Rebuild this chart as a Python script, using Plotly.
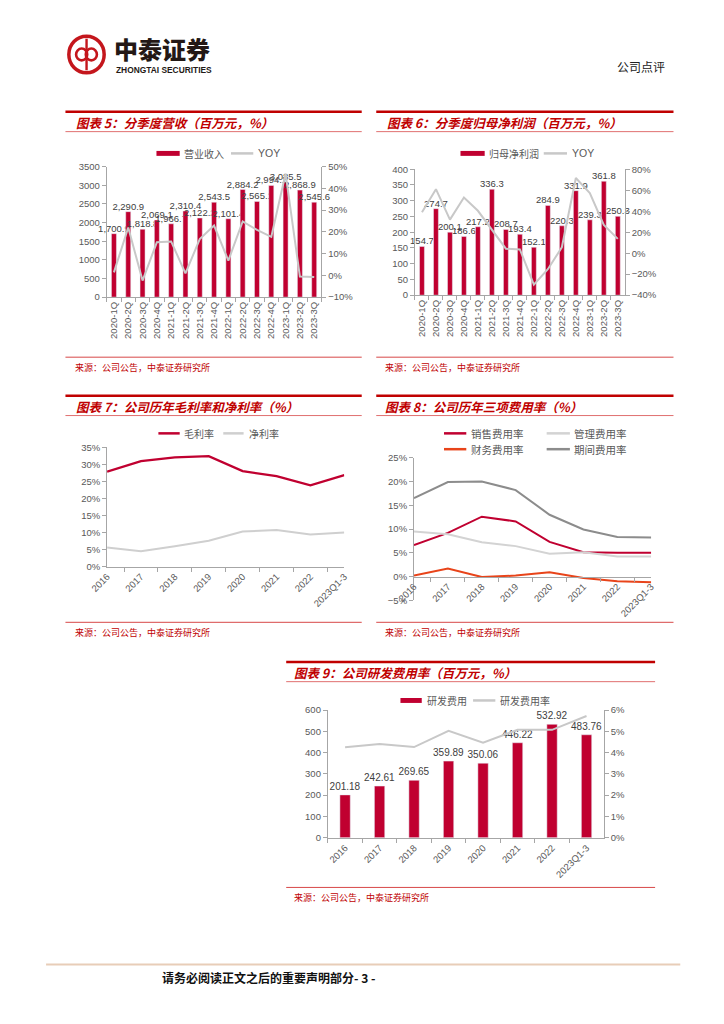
import plotly.graph_objects as go

W, H = 724, 1024


def fx(p):
    return p / W


def fy(p):
    return 1 - p / H


# ---------------- data ----------------
quarters = ["2020-1Q", "2020-2Q", "2020-3Q", "2020-4Q", "2021-1Q", "2021-2Q", "2021-3Q", "2021-4Q",
            "2022-1Q", "2022-2Q", "2022-3Q", "2022-4Q", "2023-1Q", "2023-2Q", "2023-3Q"]
revenue = [1700.9, 2290.9, 1818.8, 2069.1, 1966.7, 2310.4, 2122.2, 2543.5,
           2101.4, 2884.2, 2565.1, 2994.1, 3085.5, 2868.9, 2545.6]
revenue_yoy = [0.014, 0.220, -0.024, 0.152, 0.156, 0.009, 0.167, 0.229,
               0.068, 0.248, 0.209, 0.177, 0.468, -0.005, -0.008]
profit = [154.7, 274.7, 200.1, 186.6, 217.2, 336.3, 208.7, 193.4,
          152.1, 284.9, 220.3, 331.9, 239.3, 361.8, 250.3]
profit_yoy = [0.39, 0.61, 0.32, 0.53, 0.404, 0.224, 0.043, 0.036,
              -0.30, -0.153, 0.056, 0.716, 0.573, 0.27, 0.136]

years = ["2016", "2017", "2018", "2019", "2020", "2021", "2022", "2023Q1-3"]
gross_margin = [0.278, 0.309, 0.320, 0.324, 0.280, 0.265, 0.238, 0.268]
net_margin = [0.056, 0.045, 0.060, 0.076, 0.103, 0.107, 0.094, 0.100]

selling_rate = [0.066, 0.092, 0.126, 0.116, 0.073, 0.051, 0.050, 0.050]
admin_rate = [0.095, 0.089, 0.072, 0.064, 0.048, 0.051, 0.042, 0.042]
finance_rate = [0.002, 0.017, -0.001, 0.002, 0.009, -0.003, -0.010, -0.012]
period_rate = [0.165, 0.199, 0.200, 0.182, 0.130, 0.099, 0.083, 0.082]

rd_expense = [201.18, 242.61, 269.65, 359.89, 350.06, 446.22, 532.92, 483.76]
rd_rate = [0.0425, 0.0440, 0.0426, 0.0502, 0.0447, 0.0507, 0.0507, 0.0572]

# ---------------- styles ----------------
RED = "#C00030"
LGRAY = "#C8C8C8"
TICK = dict(family="Liberation Sans, Arial, sans-serif", size=9.5, color="#595959")
LBL = dict(family="Liberation Sans, Arial, sans-serif", size=9.5, color="#404040")
CJK = "Noto Sans CJK SC"
AXC = "#A6A6A6"

fig = go.Figure()

# ---- chart 5 ----
fig.add_trace(go.Scatter(x=quarters, y=revenue_yoy, mode="lines", line=dict(color=LGRAY, width=2),
                         xaxis="x", yaxis="y2"))
fig.add_trace(go.Bar(x=quarters, y=revenue, marker_color=RED, width=0.35,
                     text=revenue, texttemplate="%{y:,.1f}", textposition="outside",
                     constraintext="none", textfont=LBL, cliponaxis=False, xaxis="x", yaxis="y"))
# ---- chart 6 ----
fig.add_trace(go.Scatter(x=quarters, y=profit_yoy, mode="lines", line=dict(color=LGRAY, width=2),
                         xaxis="x2", yaxis="y4"))
fig.add_trace(go.Bar(x=quarters, y=profit, marker_color=RED, width=0.35,
                     text=profit, texttemplate="%{y:.1f}", textposition="outside",
                     constraintext="none", textfont=LBL, cliponaxis=False, xaxis="x2", yaxis="y3"))
# ---- chart 7 ----
fig.add_trace(go.Scatter(x=years, y=gross_margin, mode="lines", line=dict(color=RED, width=2.3),
                         xaxis="x3", yaxis="y5"))
fig.add_trace(go.Scatter(x=years, y=net_margin, mode="lines", line=dict(color="#CFCFCF", width=2),
                         xaxis="x3", yaxis="y5"))
# ---- chart 8 ----
fig.add_trace(go.Scatter(x=years, y=selling_rate, mode="lines", line=dict(color=RED, width=2),
                         xaxis="x4", yaxis="y6"))
fig.add_trace(go.Scatter(x=years, y=admin_rate, mode="lines", line=dict(color="#D3D3D3", width=2),
                         xaxis="x4", yaxis="y6"))
fig.add_trace(go.Scatter(x=years, y=finance_rate, mode="lines", line=dict(color="#E8441A", width=2),
                         xaxis="x4", yaxis="y6"))
fig.add_trace(go.Scatter(x=years, y=period_rate, mode="lines", line=dict(color="#8C8C8C", width=2),
                         xaxis="x4", yaxis="y6"))
# ---- chart 9 ----
fig.add_trace(go.Bar(x=years, y=rd_expense, marker_color=RED, width=0.3,
                     text=rd_expense, texttemplate="%{y:.2f}", textposition="outside",
                     constraintext="none", textfont=dict(LBL, size=10), cliponaxis=False,
                     xaxis="x5", yaxis="y7"))
fig.add_trace(go.Scatter(x=years, y=rd_rate, mode="lines", line=dict(color=LGRAY, width=2),
                         xaxis="x5", yaxis="y8"))


def xax(domain, anchor, angle, position=None):
    d = dict(domain=[fx(domain[0]), fx(domain[1])], anchor=anchor, type="category",
             tickangle=angle, showline=True, linecolor=AXC, linewidth=1, ticks="outside",
             tickson="boundaries", ticklen=4, tickcolor=AXC, tickfont=TICK, showgrid=False,
             zeroline=False, fixedrange=True)
    if position is not None:
        d["anchor"] = "free"
        d["position"] = position
    return d


def yax(domain, anchor, rng, dtick, fmt=None, side="left", overlaying=None):
    d = dict(domain=[fy(domain[1]), fy(domain[0])], anchor=anchor, range=rng, dtick=dtick,
             showline=True, linecolor=AXC, linewidth=1, ticks="outside", ticklen=4,
             tickcolor=AXC, tickfont=TICK, showgrid=False, zeroline=False, side=side,
             fixedrange=True)
    if fmt:
        d["tickformat"] = fmt
    if overlaying:
        d["overlaying"] = overlaying
    return d


layout = dict(
    width=W, height=H, margin=dict(l=0, r=0, t=0, b=0), paper_bgcolor="white",
    plot_bgcolor="rgba(0,0,0,0)", showlegend=False, bargap=0.6,
    xaxis=xax((91.7, 313.3), "y", -90),
    yaxis=yax((162.3, 294.3), "x", [0, 3500], 500),
    yaxis2=yax((162.3, 294.3), "x", [-0.1, 0.5], 0.1, ".0%", "right", "y"),
    xaxis2=xax((410, 626.7), "y3", -90),
    yaxis3=yax((165, 292.3), "x2", [0, 400], 50),
    yaxis4=yax((165, 292.3), "x2", [-0.4, 0.8], 0.2, ".0%", "right", "y3"),
    xaxis3=xax((92, 337), "y5", -45),
    yaxis5=yax((446, 566.7), "x3", [0, 0.35], 0.05, ".0%"),
    xaxis4=xax((409, 654), "y6", -45, position=fy(576.7)),
    yaxis6=yax((456.7, 600.7), "x4", [-0.05, 0.25], 0.05, ".0%"),
    xaxis5=xax((320, 605), "y7", -45),
    yaxis7=yax((711.7, 840.7), "x5", [0, 600], 100),
    yaxis8=yax((711.7, 840.7), "x5", [0, 0.06], 0.01, ".0%", "right", "y7"),
)
fig.update_layout(**layout)

shapes = []
annotations = []


def hline(x0, x1, y, color, width):
    shapes.append(dict(type="line", xref="paper", yref="paper", x0=fx(x0), x1=fx(x1),
                       y0=fy(y), y1=fy(y), line=dict(color=color, width=width)))


def text(x, y, s, size, color, family=CJK, xanchor="left", weight=None, style=None):
    f = dict(family=family, size=size, color=color)
    if weight:
        f["weight"] = weight
    if style:
        f["style"] = style
    annotations.append(dict(xref="paper", yref="paper", x=fx(x), y=fy(y), text=s, showarrow=False,
                            xanchor=xanchor, yanchor="middle", font=f))


# ---- header ----
LOGO = "#C4161C"
shapes.append(dict(type="circle", xref="paper", yref="paper", x0=fx(52.5), x1=fx(89),
                   y0=fy(67.5), y1=fy(30.5), line=dict(color=LOGO, width=3.5)))
shapes.append(dict(type="circle", xref="paper", yref="paper", x0=fx(60), x1=fx(71.5),
                   y0=fy(55), y1=fy(43), line=dict(color=LOGO, width=2.6)))
shapes.append(dict(type="circle", xref="paper", yref="paper", x0=fx(70), x1=fx(81.5),
                   y0=fy(55), y1=fy(43), line=dict(color=LOGO, width=2.6)))
shapes.append(dict(type="line", xref="paper", yref="paper", x0=fx(70.8), x1=fx(70.8),
                   y0=fy(33), y1=fy(65), line=dict(color=LOGO, width=2.4)))
text(97, 43, "中泰证券", 24, "#231815", weight=900)
text(99, 65, "ZHONGTAI SECURITIES", 8.4, "#231815", family="Liberation Sans, Arial", weight="bold")
text(670, 61, "公司点评", 12, "#222222", xanchor="right")

# ---- section frames ----
TR = "#C00000"
THIN = "#E07070"


def section(x0, x1, ytop, title, tx, ysrc, sx):
    hline(x0, x1, ytop, TR, 2.5)
    text(tx, ytop + 11, title, 12.5, TR, weight="bold", style="italic")
    hline(x0, x1, ytop + 20, THIN, 1)
    hline(x0, x1, ysrc - 10, "#D84848", 1)
    text(sx, ysrc, "来源：公司公告，中泰证券研究所", 9, "#C00000")


section(49, 355, 107, "图表 5：分季度营收（百万元，%）", 58, 365, 57)
section(370, 677, 107, "图表 6：分季度归母净利润（百万元，%）", 379, 365, 377)
section(49, 355, 394, "图表 7：公司历年毛利率和净利率（%）", 58, 633, 57)
section(370, 677, 394, "图表 8：公司历年三项费用率（%）", 377, 633, 377)
section(277, 658, 663, "图表 9：公司研发费用率（百万元，%）", 283, 901, 283)

# ---- legends ----
LEGC = "#595959"


def leg_rect(x0, x1, y, color):
    shapes.append(dict(type="rect", xref="paper", yref="paper", x0=fx(x0), x1=fx(x1),
                       y0=fy(y + 2.5), y1=fy(y - 2.5), line=dict(width=0), fillcolor=color))


def leg_line(x0, x1, y, color, width=2.5):
    hline(x0, x1, y, color, width)


leg_rect(143, 167, 149, RED)
text(169, 149, "营业收入", 10, LEGC)
leg_line(220, 243, 149, LGRAY)
text(246, 149, "YOY", 10.5, LEGC, family="Liberation Sans, Arial")

leg_rect(457, 482, 149, RED)
text(484, 149, "归母净利润", 10, LEGC)
leg_line(543, 567, 149, LGRAY)
text(570, 149, "YOY", 10.5, LEGC, family="Liberation Sans, Arial")

leg_line(145, 167, 432, RED)
text(169, 432, "毛利率", 10, LEGC)
leg_line(212, 233, 432, "#CFCFCF")
text(236, 432, "净利率", 10, LEGC)

leg_line(440, 463, 432, RED)
text(466, 432, "销售费用率", 10.5, LEGC)
leg_line(546, 570, 432, "#D3D3D3")
text(572, 432, "管理费用率", 10.5, LEGC)
leg_line(440, 463, 448, "#E8441A")
text(466, 448, "财务费用率", 10.5, LEGC)
leg_line(546, 570, 448, "#8C8C8C")
text(572, 448, "期间费用率", 10.5, LEGC)

leg_rect(395, 417, 702, RED)
text(420, 702, "研发费用", 10, LEGC)
leg_line(470, 493, 702, LGRAY)
text(496, 702, "研发费用率", 10, LEGC)

# ---- footer ----
hline(29, 684, 969, "#E8CDB8", 2)
text(147, 982, "请务必阅读正文之后的重要声明部分- 3 -", 12, "#111111", weight="bold")

fig.update_layout(shapes=shapes, annotations=annotations)

fig.write_html("out.html", config={"displayModeBar": False},
               post_script="document.body.style.margin='0';document.body.style.overflow='hidden';")
